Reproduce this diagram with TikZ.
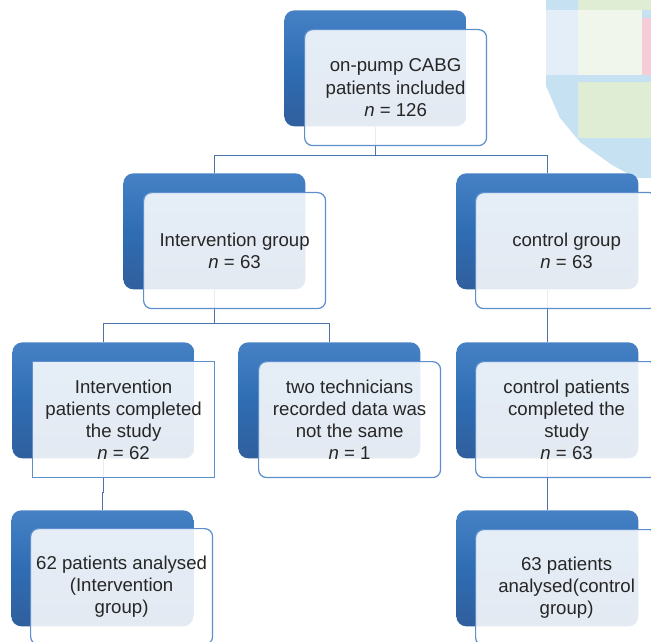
\documentclass[tikz,border=0pt]{standalone}
\usepackage{fontspec}
\setmainfont{Liberation Sans}
\usepackage{tikz}

\definecolor{backtop}{HTML}{4681C5}
\definecolor{backmid}{HTML}{2F6DB3}
\definecolor{backbot}{HTML}{305F9D}
\definecolor{edgeblue}{HTML}{5E8FCD}
\definecolor{linkblue}{HTML}{4B73A9}
\definecolor{txtgray}{HTML}{262626}
\definecolor{blobblue}{HTML}{C6E1F1}
\definecolor{blobpale}{HTML}{E4EEF8}
\definecolor{blobgreen}{HTML}{DEEDD3}
\definecolor{blobmint}{HTML}{F0F6EB}
\definecolor{blobpink}{HTML}{F5CCDA}

\tikzset{
  backbox/.style={anchor=north west, minimum width=3.64cm, minimum height=2.32cm,
    inner sep=0pt, rounded corners=0.2cm, top color=backtop, bottom color=backbot,
    middle color=backmid},
  frontbox/.style={anchor=north west, minimum width=3.64cm, minimum height=2.32cm,
    inner sep=0pt, rounded corners=0.16cm, draw=edgeblue, line width=0.7pt,
    fill=white, fill opacity=0.87, text opacity=1, text=txtgray, align=center,
    font=\fontsize{10.6}{12.6}\selectfont},
  frontsq/.style={frontbox, rounded corners=0pt},
  link/.style={draw=linkblue, line width=0.85pt}
}

\begin{document}
\begin{tikzpicture}[x=0.02cm,y=-0.02cm]
		\useasboundingbox (0,0) rectangle (651,641);
		\clip (0,0) rectangle (651,641);
		% stray patch top right
		\fill[blobblue] (546,0) -- (651,0) -- (651,178) -- (636,178) -- (612,165) -- (580,142) -- (560,118) -- (546,86) -- cycle;
		\fill[blobpale] (546,10) rectangle (578,75);
		\fill[blobmint] (578,10) rectangle (642,75);
		\fill[blobpink] (642,18) rectangle (651,75);
		\fill[blobgreen] (578,0) rectangle (651,10);
		\fill[blobgreen] (578,82) rectangle (651,138);
		% back boxes
		\node[backbox] (topb) at (284,10) {};
		\node[backbox] (intgrpb) at (123,173) {};
		\node[backbox] (ctlgrpb) at (456,173) {};
		\node[backbox] (intdoneb) at (12,342) {};
		\node[backbox] (techsb) at (238,342) {};
		\node[backbox] (ctldoneb) at (456,342) {};
		\node[backbox] (intanab) at (11,510) {};
		\node[backbox] (ctlanab) at (456,510) {};
		% links
		\draw[link] (topb.south) -- ++(0,29) coordinate (split1);
		\draw[link] (intgrpb.north) |- (split1) -| (ctlgrpb.north);
		\draw[link] (intgrpb.south) -- ++(0,34) coordinate (split2);
		\draw[link] (intdoneb.north) |- (split2) -| (techsb.north);
		\draw[link] (ctlgrpb.south) -- (ctldoneb.north);
		\draw[link] (intdoneb.south) -- ++(0,34) -| (intanab.north);
		\draw[link] (ctldoneb.south) -- (ctlanab.north);
		% front boxes
		\node[frontbox] (top) at (304,29) {on-pump CABG\\patients included\\\textit{n} = 126};
		\node[frontbox] (intgrp) at (143,192) {Intervention group\\\textit{n} = 63};
		\node[frontbox] (ctlgrp) at (475,192) {control group\\\textit{n} = 63};
		\node[frontsq] (intdone) at (32,361) {Intervention\\patients completed\\the study\\\textit{n} = 62};
		\node[frontbox] (techs) at (258,361) {two technicians\\recorded data was\\not the same\\\textit{n} = 1};
		\node[frontbox] (ctldone) at (475,361) {control patients\\completed the\\study\\\textit{n} = 63};
		\node[frontbox] (intana) at (30,528) {62 patients analysed\\(Intervention\\group)};
		\node[frontbox] (ctlana) at (475,529) {63 patients\\analysed(control\\group)};
\end{tikzpicture}
\end{document}
